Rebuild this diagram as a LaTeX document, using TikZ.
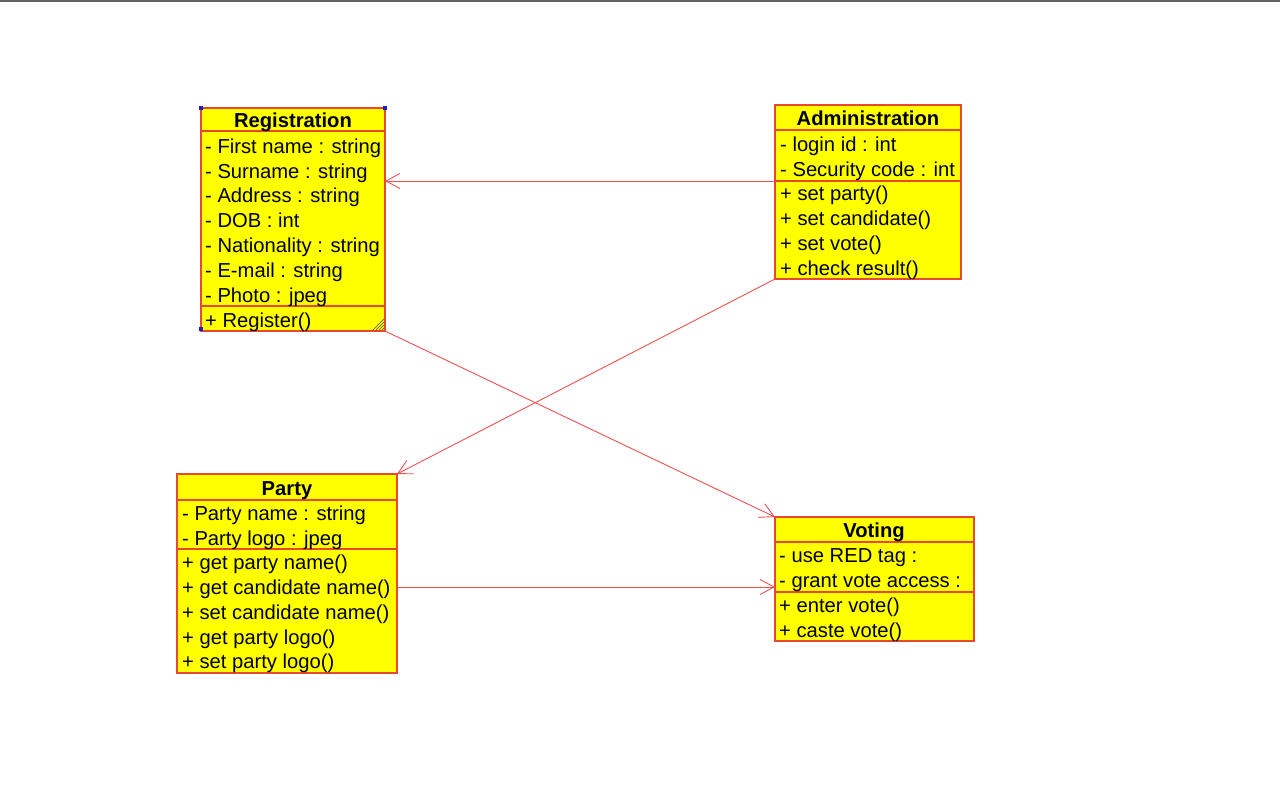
\documentclass[tikz,border=0pt]{standalone}
\usepackage{fontspec}
\setmainfont{Liberation Sans}
\usetikzlibrary{arrows.meta}
\definecolor{umlyellow}{RGB}{255,255,0}
\definecolor{boxred}{RGB}{232,72,48}
\definecolor{linered}{RGB}{240,80,80}
\definecolor{topgray}{RGB}{100,100,100}
\definecolor{handleblue}{RGB}{30,30,200}
\tikzset{
  comp/.style={draw=boxred, fill=umlyellow, line width=1.2pt, inner sep=0pt, outer sep=0pt, anchor=north west},
  txt/.style={font=\fontsize{20.2}{23}\selectfont, anchor=base west, inner sep=0pt},
  ttl/.style={font=\bfseries\fontsize{20.2}{23}\selectfont, anchor=base, inner sep=0pt},
  assoc/.style={draw=linered, line width=0.9pt, -{Straight Barb[length=14pt,width=15pt,line width=0.9pt]}},
  handle/.style={fill=handleblue, draw=none},
  grip/.style={draw=black!60!olive, line width=0.6pt}
}
\begin{document}
\begin{tikzpicture}[x=1pt,y=-1pt]
\useasboundingbox (0,0) rectangle (1280,793);
\fill[topgray] (0,0) rectangle (1280,2);

% ---------- Registration ----------
\node[comp, minimum width=184pt, minimum height=23pt] (regh) at (201,108) {};
\node[comp, minimum width=184pt, minimum height=175pt] (rega) at (201,131) {};
\node[comp, minimum width=184pt, minimum height=25pt] (regm) at (201,306) {};
\node[ttl] (regt) at (293,127) {Registration};
\node[txt] (ra1) at (205,153) {- First name : string};
\node[txt] (ra2) at (205,178) {- Surname : string};
\node[txt] (ra3) at (205,202) {- Address : string};
\node[txt] (ra4) at (205,227) {- DOB : int};
\node[txt] (ra5) at (205,252) {- Nationality : string};
\node[txt] (ra6) at (205,277) {- E-mail : string};
\node[txt] (ra7) at (205,302) {- Photo : jpeg};
\node[txt] (rm1) at (205,327) {+ Register()};
\fill[handle] (199,106) rectangle (203,110);
\fill[handle] (383,106) rectangle (387,110);
\fill[handle] (199,327) rectangle (203,331);
\draw[grip] (373,330) -- (384,319);
\draw[grip] (376,330) -- (384,322);
\draw[grip] (379,330) -- (384,325);
\draw[grip] (382,330) -- (384,328);

% ---------- Administration ----------
\node[comp, minimum width=186pt, minimum height=25pt] (admh) at (775,105) {};
\node[comp, minimum width=186pt, minimum height=51pt] (adma) at (775,130) {};
\node[comp, minimum width=186pt, minimum height=98pt] (admm) at (775,181) {};
\node[ttl] (admt) at (868,125) {Administration};
\node[txt] (aa1) at (780,151) {- login id : int};
\node[txt] (aa2) at (780,176) {- Security code : int};
\node[txt] (am1) at (780,200) {+ set party()};
\node[txt] (am2) at (780,225) {+ set candidate()};
\node[txt] (am3) at (780,250) {+ set vote()};
\node[txt] (am4) at (780,275) {+ check result()};

% ---------- Party ----------
\node[comp, minimum width=220pt, minimum height=26pt] (parh) at (177,474) {};
\node[comp, minimum width=220pt, minimum height=49pt] (para) at (177,500) {};
\node[comp, minimum width=220pt, minimum height=124pt] (parm) at (177,549) {};
\node[ttl] (part) at (287,495) {Party};
\node[txt] (pa1) at (182,520) {- Party name : string};
\node[txt] (pa2) at (182,545) {- Party logo : jpeg};
\node[txt] (pm1) at (182,569) {+ get party name()};
\node[txt] (pm2) at (182,594) {+ get candidate name()};
\node[txt] (pm3) at (182,619) {+ set candidate name()};
\node[txt] (pm4) at (182,644) {+ get party logo()};
\node[txt] (pm5) at (182,668) {+ set party logo()};

% ---------- Voting ----------
\node[comp, minimum width=199pt, minimum height=25pt] (voth) at (775,517) {};
\node[comp, minimum width=199pt, minimum height=50pt] (vota) at (775,542) {};
\node[comp, minimum width=199pt, minimum height=49pt] (votm) at (775,592) {};
\node[ttl] (vott) at (874,537) {Voting};
\node[txt] (va1) at (779,562) {- use RED tag :};
\node[txt] (va2) at (779,587) {- grant vote access :};
\node[txt] (vm1) at (779,612) {+ enter vote()};
\node[txt] (vm2) at (779,637) {+ caste vote()};

% ---------- Connectors ----------
\coordinate (pmid) at (0,587);
\draw[assoc] (adma.south west) -- (rega.east |- adma.south west);
\draw[assoc] (admm.south west) -- (parh.north east);
\draw[assoc] (regm.south east) -- (voth.north west);
\draw[assoc] (parm.east |- pmid) -- (vota.west |- pmid);
\end{tikzpicture}
\end{document}
